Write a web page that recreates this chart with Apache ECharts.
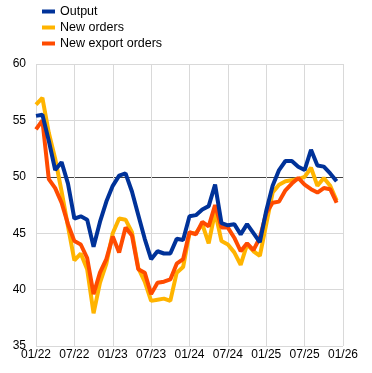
<!DOCTYPE html>
<html>
<head>
<meta charset="utf-8">
<script src="https://cdn.jsdelivr.net/npm/echarts@6/dist/echarts.min.js"></script>
<style>
html,body{margin:0;padding:0;background:#fff;}
#c{width:372px;height:373px;}
</style>
</head>
<body>
<div id="c"></div>
<script>
// Monthly index values, Jan 2022 .. Dec 2025
var tickLabels = ['01/22','07/22','01/23','07/23','01/24','07/24','01/25','07/25','01/26'];
var seriesNames = ['Output','New orders','New export orders'];
var output = [55.4,55.5,53.2,50.6,51.3,49.4,46.3,46.5,46.2,43.8,46.0,47.8,
              49.2,50.1,50.3,48.7,46.6,44.5,42.7,43.4,43.2,43.2,44.5,44.4,
              46.5,46.6,47.1,47.4,49.3,45.9,45.7,45.8,44.9,45.8,45.0,44.2,
              47.0,49.2,50.6,51.4,51.4,50.9,50.6,52.4,51.0,50.9,50.3,49.6];
var newOrders = [56.4,57.0,53.9,51.6,48.7,45.6,42.6,43.2,41.8,37.9,40.6,42.3,
                 45.0,46.3,46.2,45.1,41.9,40.7,39.0,39.1,39.2,39.0,41.5,42.0,
                 45.0,45.0,45.8,44.1,46.9,44.3,44.0,43.3,42.2,44.0,43.4,43.0,
                 45.8,48.6,49.3,49.6,49.7,49.8,50.0,50.8,49.2,49.9,49.2,47.9];
var newExportOrders = [54.2,55.0,49.8,49.0,47.7,45.8,44.3,44.0,42.8,39.6,41.5,42.7,
                       44.7,43.3,45.5,44.8,41.8,41.5,39.6,40.6,40.7,40.9,42.3,42.7,
                       45.1,44.9,46.0,45.6,47.5,45.5,45.5,44.6,43.4,44.1,43.5,44.6,
                       46.8,47.7,47.8,48.8,49.4,49.9,49.3,48.9,48.6,49.0,48.9,47.7];
var colors = ['#003299','#ffb400','#ff4b00'];

function pairs(arr){ return arr.map(function(v,i){ return [i, v]; }); }

var chart = echarts.init(document.getElementById('c'), null, {renderer:'canvas'});
var font = 'Liberation Sans, Arial, sans-serif';
chart.setOption({
  animation:false,
  backgroundColor:'#fff',
  textStyle:{fontFamily:font},
  legend:{
    orient:'vertical', left:37, top:0,
    icon:'rect', itemWidth:13, itemHeight:4, itemGap:3,
    textStyle:{fontFamily:font, fontSize:12.5, color:'#000'},
    data:seriesNames
  },
  grid:{left:36, right:29, top:64, bottom:27, containLabel:false},
  xAxis:{
    type:'value', min:0, max:48, interval:6,
    axisLine:{show:false}, axisTick:{show:false},
    splitLine:{show:true, lineStyle:{color:'#d9d9d9', width:1}},
    axisLabel:{fontFamily:font, fontSize:12, color:'#000', margin:3,
      formatter:function(v){ return tickLabels[Math.round(v/6)] || ''; }}
  },
  yAxis:{
    type:'value', min:35, max:60, interval:5,
    axisLine:{show:false}, axisTick:{show:false},
    splitLine:{show:true, lineStyle:{color:['#d9d9d9','#d9d9d9','#d9d9d9','#404040','#d9d9d9','#d9d9d9'], width:1}},
    axisLabel:{fontFamily:font, fontSize:12, color:'#000', margin:10}
  },
  series:[
    {name:seriesNames[0], type:'line', data:pairs(output), showSymbol:false, symbol:'none',
     lineStyle:{color:colors[0], width:4}, itemStyle:{color:colors[0]}, z:5},
    {name:seriesNames[1], type:'line', data:pairs(newOrders), showSymbol:false, symbol:'none',
     lineStyle:{color:colors[1], width:4}, itemStyle:{color:colors[1]}, z:3},
    {name:seriesNames[2], type:'line', data:pairs(newExportOrders), showSymbol:false, symbol:'none',
     lineStyle:{color:colors[2], width:4}, itemStyle:{color:colors[2]}, z:4}
  ]
});
</script>
</body>
</html>
